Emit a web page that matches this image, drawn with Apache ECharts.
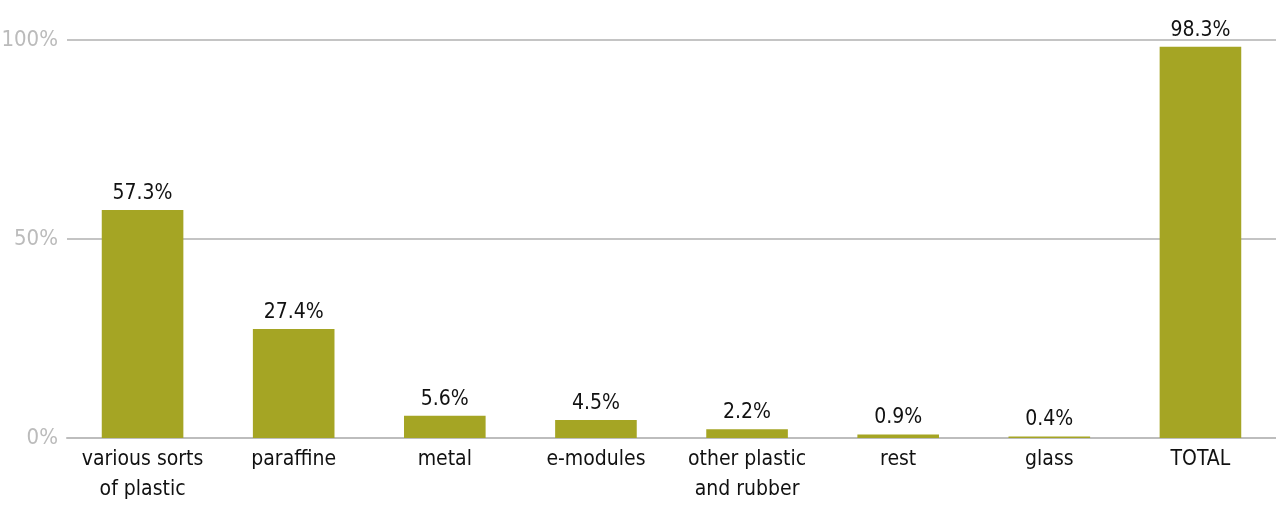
<!DOCTYPE html>
<html><head><meta charset="utf-8">
<script src="https://cdn.jsdelivr.net/npm/echarts@6/dist/echarts.min.js"></script>
<style>html,body{margin:0;padding:0;background:#fff}#c{width:1276px;height:506px}</style>
</head><body><div id="c"></div>
<script>
const categories = ['various sorts\nof plastic','paraffine','metal','e-modules','other plastic\nand rubber','rest','glass','TOTAL'];
const values = [57.3, 27.4, 5.6, 4.5, 2.2, 0.9, 0.4, 98.3];
const yTicks = [0, 50, 100];
const FONT = '"DejaVu Sans Condensed","Liberation Sans Narrow","Roboto Condensed","Noto Sans",sans-serif';
const chart = echarts.init(document.getElementById('c'));
chart.setOption({
  animation: false,
  grid: {left: 67, right: 0, top: 40, bottom: 68, containLabel: false, outerBoundsMode: 'none'},
  xAxis: {
    type: 'category', data: categories,
    axisLine: {show: true, lineStyle: {color: '#bdbdbd', width: 2}},
    axisTick: {show: false},
    axisLabel: {color: '#111', fontFamily: FONT, fontSize: 21, lineHeight: 30, margin: 7, interval: 0}
  },
  yAxis: {
    type: 'value', min: 0, max: 100, interval: 50,
    axisLine: {show: false}, axisTick: {show: false},
    splitLine: {lineStyle: {color: '#c4c4c4', width: 2}},
    axisLabel: {color: '#bbbbbb', fontFamily: FONT, fontSize: 22, margin: 9,
      formatter: v => yTicks.includes(v) ? v + '%' : ''}
  },
  series: [{
    type: 'bar', data: values, barWidth: '54%',
    itemStyle: {color: '#a5a524'},
    label: {show: true, position: 'top', distance: 6, color: '#111', fontFamily: FONT, fontSize: 21,
      formatter: p => p.value.toFixed(1) + '%'}
  }]
});
</script></body></html>
